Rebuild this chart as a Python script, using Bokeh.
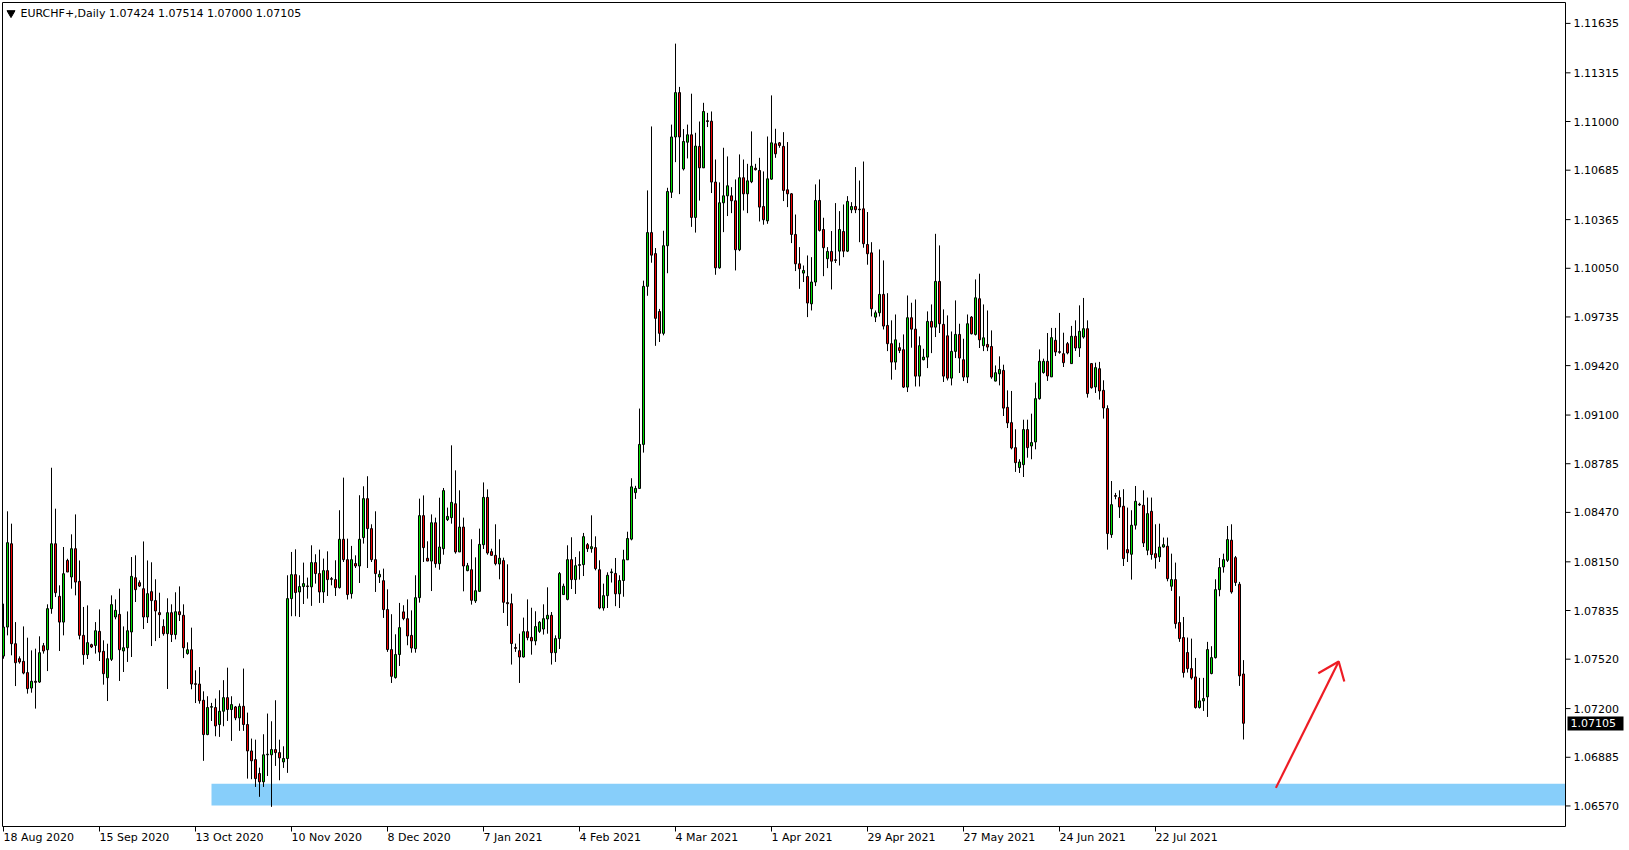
from bokeh.plotting import figure
from bokeh.models import Range1d, ColumnDataSource
from bokeh.core.properties import value
from bokeh.embed import file_html
from bokeh.resources import INLINE

chart_title = "EURCHF+,Daily  1.07424 1.07514 1.07000 1.07105"

opens = [
    1.07540, 1.07728, 1.08267, 1.07620, 1.07523, 1.07506, 1.07433, 1.07333, 1.07377, 1.07372,
    1.07607, 1.07581, 1.07847, 1.08267, 1.07927, 1.07760, 1.08159, 1.08052, 1.08235, 1.08024,
    1.07674, 1.07549, 1.07614, 1.07609, 1.07700, 1.07571, 1.07400, 1.07519, 1.07793, 1.07810,
    1.07573, 1.07594, 1.07696, 1.08047, 1.08015, 1.07976, 1.07793, 1.07957, 1.07899, 1.07821,
    1.07732, 1.07685, 1.07821, 1.07679, 1.07827, 1.07804, 1.07556, 1.07581, 1.07361, 1.07359,
    1.07254, 1.07032, 1.07209, 1.07207, 1.07097, 1.07183, 1.07271, 1.07194, 1.07211, 1.07140,
    1.07215, 1.07097, 1.06926, 1.06870, 1.06780, 1.06726, 1.06901, 1.06901, 1.06935, 1.06915,
    1.06855, 1.06877, 1.07912, 1.08067, 1.07955, 1.07990, 1.07994, 1.07988, 1.08145, 1.08074,
    1.07955, 1.08093, 1.08041, 1.08035, 1.07983, 1.08296, 1.08164, 1.07944, 1.08139, 1.08123,
    1.08307, 1.08559, 1.08365, 1.08164, 1.08052, 1.08028, 1.07841, 1.07582, 1.07401, 1.07550,
    1.07826, 1.07782, 1.07674, 1.07588, 1.07918, 1.08449, 1.08173, 1.08155, 1.08403, 1.08138,
    1.08235, 1.08423, 1.08436, 1.08526, 1.08214, 1.08375, 1.08093, 1.08099, 1.07897, 1.07959,
    1.08261, 1.08567, 1.08216, 1.08192, 1.08136, 1.08158, 1.07886, 1.07879, 1.07595, 1.07575,
    1.07534, 1.07698, 1.07661, 1.07638, 1.07700, 1.07715, 1.07780, 1.07804, 1.07562, 1.07653,
    1.07938, 1.07907, 1.08164, 1.08035, 1.08127, 1.08132, 1.08261, 1.08235, 1.08242, 1.08099,
    1.07851, 1.07931, 1.08080, 1.08075, 1.07943, 1.08029, 1.08163, 1.08297, 1.08598, 1.08625,
    1.08910, 1.09933, 1.10281, 1.10145, 1.09770, 1.09629, 1.10196, 1.10542, 1.10900, 1.11187,
    1.10693, 1.10866, 1.10914, 1.10379, 1.10839, 1.10700, 1.11005, 1.11002, 1.10608, 1.10053,
    1.10474, 1.10519, 1.10519, 1.10487, 1.10170, 1.10636, 1.10532, 1.10610, 1.10698, 1.10683,
    1.10450, 1.10357, 1.10627, 1.10856, 1.10862, 1.10839, 1.10558, 1.10532, 1.10269, 1.10079,
    1.10019, 1.09997, 1.09820, 1.09961, 1.10489, 1.10301, 1.10112, 1.10159, 1.10105, 1.10161,
    1.10288, 1.10161, 1.10429, 1.10450, 1.10433, 1.10435, 1.10204, 1.10150, 1.09734, 1.09762,
    1.09881, 1.09680, 1.09562, 1.09443, 1.09536, 1.09523, 1.09281, 1.09730, 1.09656, 1.09352,
    1.09458, 1.09475, 1.09706, 1.09669, 1.09965, 1.09687, 1.09613, 1.09339, 1.09512, 1.09622,
    1.09458, 1.09346, 1.09734, 1.09622, 1.09853, 1.09549, 1.09557, 1.09544, 1.09320, 1.09367,
    1.09389, 1.09150, 1.09051, 1.08889, 1.08760, 1.08779, 1.09006, 1.08900, 1.08926, 1.09206,
    1.09375, 1.09448, 1.09347, 1.09584, 1.09510, 1.09497, 1.09562, 1.09433, 1.09610, 1.09534,
    1.09605, 1.09659, 1.09433, 1.09282, 1.09400, 1.09260, 1.09142, 1.08326, 1.08579, 1.08566,
    1.08510, 1.08229, 1.08199, 1.08387, 1.08523, 1.08516, 1.08225, 1.08477, 1.08203, 1.08182,
    1.08246, 1.08251, 1.07992, 1.08035, 1.07757, 1.07660, 1.07563, 1.07459, 1.07405, 1.07207,
    1.07250, 1.07276, 1.07427, 1.07530, 1.07970, 1.08117, 1.08160, 1.08290, 1.08177, 1.08005,
    1.07424,
]

highs = [
    1.07879, 1.08477, 1.08397, 1.07760, 1.07538, 1.07732, 1.07659, 1.07577, 1.07588, 1.07668,
    1.07625, 1.07875, 1.08759, 1.08494, 1.07998, 1.08246, 1.08170, 1.08328, 1.08457, 1.08159,
    1.07858, 1.07868, 1.07620, 1.07760, 1.07842, 1.07642, 1.07620, 1.07933, 1.07907, 1.07976,
    1.07732, 1.07829, 1.08181, 1.08192, 1.08030, 1.08282, 1.08159, 1.08147, 1.08037, 1.07950,
    1.07778, 1.07914, 1.07875, 1.07953, 1.07991, 1.07875, 1.07629, 1.07724, 1.07448, 1.07469,
    1.07312, 1.07280, 1.07237, 1.07265, 1.07319, 1.07384, 1.07465, 1.07280, 1.07217, 1.07233,
    1.07459, 1.07174, 1.07006, 1.06999, 1.06818, 1.07034, 1.07168, 1.07118, 1.07254, 1.06999,
    1.06956, 1.08063, 1.08214, 1.08231, 1.08063, 1.08145, 1.08048, 1.08257, 1.08199, 1.08229,
    1.08171, 1.08218, 1.08052, 1.08160, 1.08484, 1.08695, 1.08300, 1.08253, 1.08192, 1.08581,
    1.08639, 1.08704, 1.08393, 1.08477, 1.08095, 1.08106, 1.07972, 1.07811, 1.07681, 1.07884,
    1.07869, 1.07907, 1.07836, 1.08063, 1.08559, 1.08580, 1.08283, 1.08457, 1.08436, 1.08565,
    1.08628, 1.08501, 1.08904, 1.08742, 1.08613, 1.08436, 1.08143, 1.08296, 1.08179, 1.08365,
    1.08664, 1.08619, 1.08235, 1.08393, 1.08296, 1.08177, 1.08134, 1.07944, 1.07621, 1.07685,
    1.07789, 1.07907, 1.07853, 1.07830, 1.07767, 1.07875, 1.07985, 1.07825, 1.07674, 1.08084,
    1.08009, 1.08257, 1.08309, 1.08181, 1.08218, 1.08337, 1.08272, 1.08451, 1.08315, 1.08160,
    1.08009, 1.08082, 1.08106, 1.08175, 1.08063, 1.08228, 1.08345, 1.08691, 1.08642, 1.09142,
    1.09970, 1.10554, 1.10968, 1.10181, 1.09787, 1.10293, 1.10571, 1.10980, 1.11504, 1.11224,
    1.10951, 1.10980, 1.11180, 1.10927, 1.11000, 1.11121, 1.11056, 1.11065, 1.10754, 1.10606,
    1.10830, 1.10774, 1.10575, 1.10625, 1.10787, 1.10754, 1.10726, 1.10936, 1.10726, 1.10765,
    1.10677, 1.10903, 1.11169, 1.10953, 1.10867, 1.10931, 1.10867, 1.10537, 1.10398, 1.10187,
    1.10068, 1.10133, 1.10122, 1.10593, 1.10625, 1.10377, 1.10187, 1.10291, 1.10472, 1.10420,
    1.10463, 1.10517, 1.10478, 1.10705, 1.10618, 1.10741, 1.10414, 1.10219, 1.09777, 1.10172,
    1.10101, 1.09889, 1.09713, 1.09751, 1.09568, 1.09622, 1.09874, 1.09827, 1.09848, 1.09609,
    1.09529, 1.09771, 1.09816, 1.10273, 1.10198, 1.09784, 1.09745, 1.09641, 1.09842, 1.09691,
    1.09594, 1.09751, 1.09741, 1.09978, 1.10015, 1.09816, 1.09777, 1.09648, 1.09421, 1.09480,
    1.09426, 1.09260, 1.09256, 1.09008, 1.08814, 1.09070, 1.09070, 1.09109, 1.09310, 1.09525,
    1.09465, 1.09631, 1.09664, 1.09664, 1.09761, 1.09633, 1.09573, 1.09677, 1.09713, 1.09810,
    1.09858, 1.09713, 1.09437, 1.09439, 1.09444, 1.09325, 1.09163, 1.08673, 1.08596, 1.08613,
    1.08620, 1.08501, 1.08484, 1.08641, 1.08533, 1.08613, 1.08566, 1.08566, 1.08393, 1.08397,
    1.08307, 1.08307, 1.08203, 1.08145, 1.07927, 1.07793, 1.07660, 1.07653, 1.07528, 1.07399,
    1.07399, 1.07632, 1.07604, 1.08037, 1.08175, 1.08203, 1.08382, 1.08393, 1.08188, 1.08020,
    1.07514,
]

lows = [
    1.07523, 1.07674, 1.07545, 1.07346, 1.07491, 1.07422, 1.07297, 1.07303, 1.07200, 1.07366,
    1.07556, 1.07443, 1.07814, 1.07922, 1.07573, 1.07674, 1.08084, 1.07976, 1.07933, 1.07648,
    1.07484, 1.07521, 1.07592, 1.07556, 1.07508, 1.07355, 1.07249, 1.07508, 1.07778, 1.07379,
    1.07437, 1.07502, 1.07534, 1.07890, 1.07987, 1.07715, 1.07754, 1.07605, 1.07637, 1.07657,
    1.07672, 1.07327, 1.07631, 1.07648, 1.07767, 1.07527, 1.07549, 1.07325, 1.07236, 1.07232,
    1.06862, 1.07028, 1.07120, 1.07021, 1.07017, 1.07086, 1.07120, 1.06991, 1.07125, 1.07056,
    1.07056, 1.06747, 1.06743, 1.06693, 1.06629, 1.06693, 1.06764, 1.06564, 1.06829, 1.06736,
    1.06816, 1.06784, 1.07798, 1.07798, 1.07793, 1.07877, 1.07912, 1.07865, 1.08009, 1.07884,
    1.07884, 1.07929, 1.07998, 1.07929, 1.07977, 1.08149, 1.07906, 1.07912, 1.08110, 1.08013,
    1.08268, 1.08110, 1.08149, 1.07955, 1.08013, 1.07787, 1.07567, 1.07366, 1.07394, 1.07476,
    1.07772, 1.07610, 1.07562, 1.07562, 1.07886, 1.08149, 1.08155, 1.07961, 1.08112, 1.08099,
    1.08196, 1.08414, 1.08397, 1.08203, 1.08214, 1.07959, 1.08089, 1.07873, 1.07884, 1.07955,
    1.08233, 1.08196, 1.08190, 1.08127, 1.08037, 1.07819, 1.07735, 1.07485, 1.07567, 1.07366,
    1.07530, 1.07642, 1.07549, 1.07610, 1.07690, 1.07679, 1.07685, 1.07485, 1.07502, 1.07586,
    1.07938, 1.07901, 1.07974, 1.07942, 1.08035, 1.08058, 1.08214, 1.08209, 1.08095, 1.07843,
    1.07834, 1.07851, 1.08016, 1.07863, 1.07851, 1.07924, 1.08163, 1.08289, 1.08557, 1.08625,
    1.08857, 1.09872, 1.10086, 1.09548, 1.09573, 1.09616, 1.10018, 1.10505, 1.10737, 1.10530,
    1.10683, 1.10761, 1.10318, 1.10281, 1.10488, 1.10700, 1.10964, 1.10537, 1.10008, 1.10047,
    1.10284, 1.10388, 1.10407, 1.10036, 1.10161, 1.10424, 1.10407, 1.10601, 1.10683, 1.10353,
    1.10332, 1.10338, 1.10623, 1.10765, 1.10830, 1.10485, 1.10446, 1.10213, 1.10032, 1.09917,
    1.09961, 1.09734, 1.09777, 1.09935, 1.10288, 1.09999, 1.10051, 1.09913, 1.10084, 1.10068,
    1.10122, 1.10155, 1.10407, 1.10407, 1.10219, 1.10183, 1.10073, 1.09738, 1.09702, 1.09738,
    1.09654, 1.09514, 1.09329, 1.09393, 1.09501, 1.09275, 1.09249, 1.09536, 1.09285, 1.09285,
    1.09454, 1.09404, 1.09501, 1.09605, 1.09631, 1.09314, 1.09324, 1.09292, 1.09469, 1.09372,
    1.09320, 1.09307, 1.09622, 1.09615, 1.09534, 1.09514, 1.09514, 1.09335, 1.09318, 1.09292,
    1.09094, 1.09016, 1.08878, 1.08732, 1.08725, 1.08699, 1.08824, 1.08814, 1.08878, 1.09200,
    1.09368, 1.09321, 1.09347, 1.09482, 1.09497, 1.09411, 1.09493, 1.09433, 1.09515, 1.09476,
    1.09595, 1.09213, 1.09271, 1.09243, 1.09200, 1.09077, 1.08229, 1.08305, 1.08555, 1.08434,
    1.08123, 1.08149, 1.08035, 1.08359, 1.08512, 1.08246, 1.08193, 1.08164, 1.08106, 1.08149,
    1.08242, 1.08024, 1.07962, 1.07718, 1.07632, 1.07401, 1.07433, 1.07388, 1.07200, 1.07200,
    1.07185, 1.07146, 1.07422, 1.07524, 1.07927, 1.08080, 1.08149, 1.07944, 1.07994, 1.07347,
    1.07000,
]

closes = [
    1.07728, 1.08274, 1.07620, 1.07497, 1.07502, 1.07430, 1.07329, 1.07377, 1.07370, 1.07562,
    1.07573, 1.07847, 1.08267, 1.07950, 1.07760, 1.08073, 1.08084, 1.08235, 1.08019, 1.07674,
    1.07549, 1.07627, 1.07599, 1.07704, 1.07566, 1.07426, 1.07523, 1.07873, 1.07836, 1.07581,
    1.07594, 1.07704, 1.08056, 1.07970, 1.07993, 1.07793, 1.07944, 1.07899, 1.07832, 1.07808,
    1.07685, 1.07821, 1.07679, 1.07827, 1.07808, 1.07594, 1.07581, 1.07359, 1.07357, 1.07251,
    1.07032, 1.07207, 1.07213, 1.07088, 1.07183, 1.07271, 1.07194, 1.07226, 1.07140, 1.07215,
    1.07097, 1.06926, 1.06862, 1.06747, 1.06726, 1.06901, 1.06905, 1.06935, 1.06915, 1.06881,
    1.06877, 1.07912, 1.08067, 1.07951, 1.07990, 1.08009, 1.07990, 1.08145, 1.08074, 1.07955,
    1.08093, 1.08035, 1.08037, 1.07983, 1.08296, 1.08164, 1.07938, 1.08164, 1.08123, 1.08296,
    1.08559, 1.08365, 1.08164, 1.08074, 1.08069, 1.07841, 1.07582, 1.07409, 1.07550, 1.07724,
    1.07783, 1.07670, 1.07592, 1.07918, 1.08449, 1.08242, 1.08155, 1.08403, 1.08138, 1.08246,
    1.08611, 1.08444, 1.08535, 1.08214, 1.08375, 1.08123, 1.08125, 1.07901, 1.07963, 1.08263,
    1.08567, 1.08207, 1.08192, 1.08138, 1.08173, 1.07888, 1.07879, 1.07621, 1.07590, 1.07534,
    1.07698, 1.07659, 1.07638, 1.07731, 1.07759, 1.07782, 1.07804, 1.07562, 1.07653, 1.08074,
    1.07992, 1.08164, 1.08035, 1.08125, 1.08132, 1.08313, 1.08235, 1.08248, 1.08106, 1.07851,
    1.07931, 1.08063, 1.08085, 1.07943, 1.08029, 1.08163, 1.08301, 1.08635, 1.08625, 1.08910,
    1.09933, 1.10281, 1.10135, 1.09726, 1.09629, 1.10196, 1.10547, 1.10900, 1.11187, 1.10900,
    1.10871, 1.10914, 1.10379, 1.10841, 1.10700, 1.11065, 1.11000, 1.10608, 1.10053, 1.10474,
    1.10519, 1.10584, 1.10487, 1.10170, 1.10636, 1.10532, 1.10616, 1.10711, 1.10688, 1.10446,
    1.10364, 1.10629, 1.10862, 1.10791, 1.10845, 1.10554, 1.10532, 1.10269, 1.10079, 1.10047,
    1.10036, 1.09825, 1.09961, 1.10489, 1.10295, 1.10183, 1.10159, 1.10096, 1.10101, 1.10301,
    1.10161, 1.10483, 1.10450, 1.10429, 1.10429, 1.10209, 1.10144, 1.09788, 1.09762, 1.09881,
    1.09676, 1.09562, 1.09443, 1.09587, 1.09518, 1.09281, 1.09730, 1.09656, 1.09352, 1.09549,
    1.09475, 1.09706, 1.09669, 1.09965, 1.09691, 1.09352, 1.09339, 1.09512, 1.09622, 1.09469,
    1.09346, 1.09691, 1.09626, 1.09859, 1.09587, 1.09600, 1.09540, 1.09346, 1.09374, 1.09395,
    1.09145, 1.09049, 1.08887, 1.08792, 1.08796, 1.09006, 1.08889, 1.08922, 1.09206, 1.09448,
    1.09448, 1.09353, 1.09601, 1.09508, 1.09506, 1.09439, 1.09502, 1.09610, 1.09534, 1.09642,
    1.09659, 1.09239, 1.09277, 1.09407, 1.09256, 1.09146, 1.08333, 1.08520, 1.08574, 1.08505,
    1.08171, 1.08208, 1.08387, 1.08542, 1.08518, 1.08272, 1.08462, 1.08197, 1.08177, 1.08246,
    1.08261, 1.08041, 1.08035, 1.07750, 1.07653, 1.07433, 1.07459, 1.07399, 1.07207, 1.07250,
    1.07265, 1.07582, 1.07530, 1.07970, 1.08113, 1.08164, 1.08294, 1.07955, 1.08016, 1.07412,
    1.07105,
]

date_tick_bars = [0, 24, 48, 72, 96, 120, 144, 168, 192, 216, 240, 264, 288]
date_tick_labels = ["18 Aug 2020", "15 Sep 2020", "13 Oct 2020", "10 Nov 2020", "8 Dec 2020",
                    "7 Jan 2021", "4 Feb 2021", "4 Mar 2021", "1 Apr 2021", "29 Apr 2021",
                    "27 May 2021", "24 Jun 2021", "22 Jul 2021"]
price_ticks = [1.11635, 1.11315, 1.11000, 1.10685, 1.10365, 1.10050, 1.09735, 1.09420, 1.09100,
               1.08785, 1.08470, 1.08150, 1.07835, 1.07520, 1.07200, 1.06885, 1.06570]
last_price = 1.07105

zone_start_bar = 52.0
zone_low = 1.06573
zone_high = 1.06713

arrow_shaft_x = [318.1, 333.8]
arrow_shaft_y = [1.06687, 1.07505]
arrow_head_x = [328.7, 333.8, 335.2]
arrow_head_y = [1.07429, 1.07505, 1.07375]

BULL = "#00dc00"
BEAR = "#f00000"
ARROW = "#ee1c24"
ZONE = "#87cefa"
FONT = "DejaVu Sans"

W, H = 1625, 846


# layout helpers: page pixel -> data coordinates (4 px per daily bar, 1545 px per 0.1)
def bar_at(px):
    return (px - 3.0) / 4.0


def price_at(py):
    return 1.11635 - (py - 22.9) / 15450.0


BOX_L, BOX_R = bar_at(2.0), bar_at(1565.0)
BOX_T, BOX_B = price_at(2.0), price_at(826.0)

bars = list(range(len(opens)))
src = ColumnDataSource(dict(
    x=bars, o=opens, h=highs, l=lows, c=closes,
    top=[max(a, b) for a, b in zip(opens, closes)],
    bottom=[min(a, b) for a, b in zip(opens, closes)],
    color=[BULL if c >= o else BEAR for o, c in zip(opens, closes)],
))

p = figure(frame_width=W, frame_height=H,
           x_range=Range1d(bar_at(0), bar_at(W)), y_range=Range1d(price_at(H), price_at(0)),
           x_axis_location=None, y_axis_location=None,
           output_backend="svg", toolbar_location=None, min_border=0,
           background_fill_color="white", border_fill_color="white")
p.grid.visible = False
p.outline_line_color = None

# support zone
p.quad(left=[zone_start_bar], right=[BOX_R], bottom=[zone_low], top=[zone_high],
       fill_color=ZONE, line_color=None)

# candles
p.segment(x0="x", y0="l", x1="x", y1="h", source=src, line_color="black", line_width=1)
p.vbar(x="x", width=0.5, top="top", bottom="bottom", source=src,
       fill_color="color", line_color="black", line_width=1)

# arrow
p.line(arrow_shaft_x, arrow_shaft_y, line_color=ARROW, line_width=2.2)
p.line(arrow_head_x, arrow_head_y, line_color=ARROW, line_width=2.2)

# chart frame
p.multi_line(xs=[[BOX_L, BOX_R, BOX_R, BOX_L, BOX_L]], ys=[[BOX_T, BOX_T, BOX_B, BOX_B, BOX_T]],
             line_color="black", line_width=1)

# header
p.scatter([bar_at(10.5)], [price_at(12.5)], marker="inverted_triangle", size=8,
          fill_color="black", line_color="black")
p.text([bar_at(20.0)], [price_at(12.5)], text=[chart_title], text_font=value(FONT),
       text_font_size=value("11px"), text_baseline="middle", text_align="left", text_color="black")

# price scale (right)
p.segment(x0=[BOX_R] * len(price_ticks), y0=price_ticks, x1=[bar_at(1570)] * len(price_ticks),
          y1=price_ticks, line_color="black", line_width=1)
p.text([bar_at(1573)] * len(price_ticks), price_ticks, text=[f"{v:.5f}" for v in price_ticks],
       text_font=value(FONT), text_font_size=value("11px"), text_baseline="middle",
       text_align="left", text_color="black")

# current price marker
p.quad(left=[bar_at(1567)], right=[bar_at(1623)], top=[price_at(716)], bottom=[price_at(730)],
       fill_color="black", line_color=None)
p.text([bar_at(1570)], [last_price], text=[f"{last_price:.5f}"], text_font=value(FONT),
       text_font_size=value("11px"), text_baseline="middle", text_align="left", text_color="white")

# time scale (bottom)
p.segment(x0=date_tick_bars, y0=[BOX_B] * len(date_tick_bars), x1=date_tick_bars,
          y1=[price_at(831)] * len(date_tick_bars), line_color="black", line_width=1)
p.text(date_tick_bars, [price_at(836.5)] * len(date_tick_bars), text=date_tick_labels,
       text_font=value(FONT), text_font_size=value("11px"), text_baseline="middle",
       text_align="left", text_color="black")

open("out.html", "w").write(file_html(p, INLINE))
